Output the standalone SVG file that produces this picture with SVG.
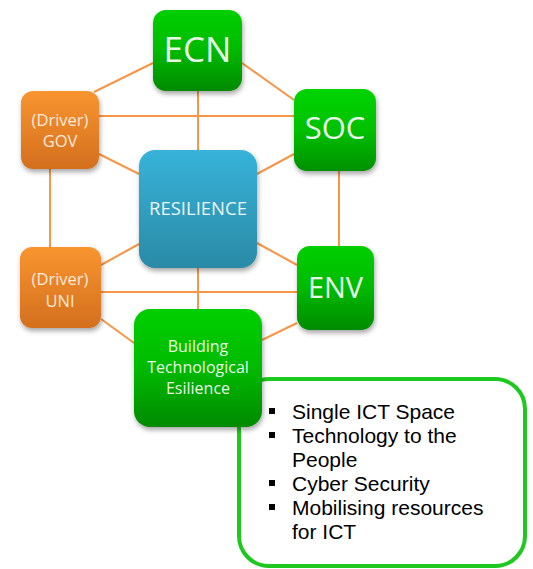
<svg xmlns="http://www.w3.org/2000/svg" width="533" height="569" viewBox="0 0 533 569">
<defs>
<linearGradient id="gGreen" x1="0" y1="0" x2="0" y2="1">
<stop offset="0" stop-color="#00CF00"/><stop offset="0.5" stop-color="#00BA00"/><stop offset="1" stop-color="#008A00"/>
</linearGradient>
<linearGradient id="gGreenB" x1="0" y1="0" x2="0" y2="1">
<stop offset="0" stop-color="#00D400"/><stop offset="0.5" stop-color="#00C000"/><stop offset="1" stop-color="#009000"/>
</linearGradient>
<linearGradient id="gOrange" x1="0" y1="0" x2="0" y2="1">
<stop offset="0" stop-color="#F8952F"/><stop offset="1" stop-color="#D46F1E"/>
</linearGradient>
<linearGradient id="gBlue" x1="0" y1="0" x2="0" y2="1">
<stop offset="0" stop-color="#37B3D9"/><stop offset="1" stop-color="#2A8AA6"/>
</linearGradient>
<filter id="sh" x="-20%" y="-20%" width="140%" height="150%">
<feDropShadow dx="1" dy="3" stdDeviation="2.5" flood-color="#000" flood-opacity="0.35"/>
</filter>
</defs>
<style>
.c{stroke:#F79646;stroke-width:2;fill:none}
.t{font-family:"Open Sans","Noto Sans",sans-serif;fill:#fff;fill-opacity:0.93;text-anchor:middle}
.o{font-family:"Open Sans","Noto Sans",sans-serif;fill:#FDE9D9;text-anchor:middle;font-size:16.5px}
.b{font-family:"Liberation Sans",Arial,sans-serif;font-size:21px;fill:#000}
</style>
<g id="connectors">
<line class="c" x1="153" y1="63" x2="94" y2="92"/>
<line class="c" x1="242" y1="63" x2="294" y2="100"/>
<line class="c" x1="198" y1="91" x2="198" y2="150"/>
<line class="c" x1="99" y1="116" x2="294" y2="116"/>
<line class="c" x1="99" y1="154" x2="139" y2="174"/>
<line class="c" x1="50" y1="169" x2="50" y2="247"/>
<line class="c" x1="294" y1="154" x2="257" y2="174"/>
<line class="c" x1="339" y1="171" x2="339" y2="246"/>
<line class="c" x1="139" y1="244" x2="101" y2="265"/>
<line class="c" x1="257" y1="243" x2="297" y2="265"/>
<line class="c" x1="198" y1="268" x2="198" y2="309"/>
<line class="c" x1="101" y1="292" x2="297" y2="292"/>
<line class="c" x1="101" y1="319" x2="134" y2="343"/>
<line class="c" x1="297" y1="323" x2="262" y2="340"/>
</g>
<g id="callout">
<rect x="239" y="379" width="286" height="187" rx="30" fill="#fff" stroke="#1EC81E" stroke-width="4"/>
<g fill="#000">
<rect x="269" y="408" width="6" height="6"/>
<rect x="269" y="432" width="6" height="6"/>
<rect x="269" y="480" width="6" height="6"/>
<rect x="269" y="504" width="6" height="6"/>
</g>
<text class="b" x="292" y="419">Single ICT Space</text>
<text class="b" x="292" y="443">Technology to the</text>
<text class="b" x="292" y="467">People</text>
<text class="b" x="292" y="491">Cyber Security</text>
<text class="b" x="292" y="515">Mobilising resources</text>
<text class="b" x="292" y="539">for ICT</text>
</g>
<g id="ECN">
<rect x="153" y="10" width="89" height="81" rx="13" fill="url(#gGreen)" filter="url(#sh)"/>
<text class="t" x="197.5" y="62" font-size="35">ECN</text>
</g>
<g id="GOV">
<rect x="21" y="91" width="78" height="78" rx="12" fill="url(#gOrange)" filter="url(#sh)"/>
<text class="o" x="60" y="126">(Driver)</text>
<text class="o" x="60" y="147">GOV</text>
</g>
<g id="SOC">
<rect x="294" y="89" width="82" height="82" rx="13" fill="url(#gGreenB)" filter="url(#sh)"/>
<text class="t" x="335" y="139" font-size="31">SOC</text>
</g>
<g id="RESILIENCE">
<rect x="139" y="150" width="118" height="118" rx="16" fill="url(#gBlue)" filter="url(#sh)"/>
<text class="t" x="198" y="215" font-size="18.5">RESILIENCE</text>
</g>
<g id="UNI">
<rect x="20" y="247" width="81" height="81" rx="12" fill="url(#gOrange)" filter="url(#sh)"/>
<text class="o" x="60" y="285">(Driver)</text>
<text class="o" x="60" y="307">UNI</text>
</g>
<g id="ENV">
<rect x="297" y="246" width="77" height="84" rx="13" fill="url(#gGreen)" filter="url(#sh)"/>
<text class="t" x="335.5" y="298" font-size="29">ENV</text>
</g>
<g id="Building">
<rect x="134" y="309" width="128" height="118" rx="16" fill="url(#gGreen)" filter="url(#sh)"/>
<text class="t" x="198" y="352" font-size="16">Building</text>
<text class="t" x="198" y="373" font-size="16">Technological</text>
<text class="t" x="198" y="394" font-size="16">Esilience</text>
</g>
</svg>
